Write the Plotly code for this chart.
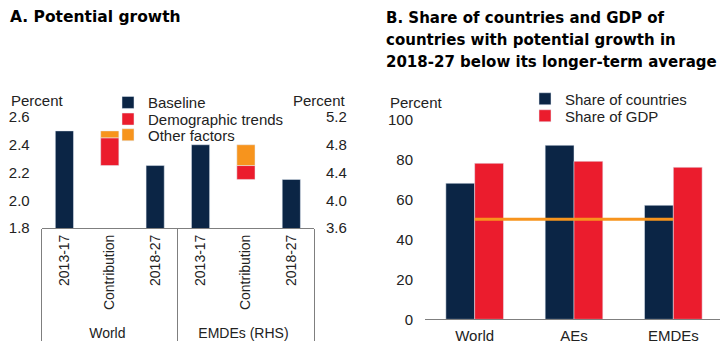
import plotly.graph_objects as go

# ---------- Data ----------
periods = ["2013-17", "Contribution", "2018-27"]
groups_a = ["World", "EMDEs (RHS)"]
world_baseline = [2.5, None, 2.25]
world_demographic = 0.20
world_other = 0.05
emde_baseline = [4.8, None, 4.3]
emde_demographic = 0.20
emde_other = 0.30

regions_b = ["World", "AEs", "EMDEs"]
share_countries = [68, 87, 57]
share_gdp = [78, 79, 76]
threshold = [50, 50, 50]

title_a = "A. Potential growth"
title_b = ["B. Share of countries and GDP of",
           "countries with potential growth in",
           "2018-27 below its longer-term average"]

NAVY = "#0B2545"
RED = "#EB1C2D"
ORANGE = "#F7941D"
FONT = "Arial, Liberation Sans, sans-serif"
TFONT = "DejaVu Sans, sans-serif"
OFF = 8                     # page body margin
W, H = 728 - OFF, 344 - OFF  # figure size
FS = 15

def px(v):
    """target page x pixel -> paper fraction"""
    return (v - OFF) / W

def py(v):
    """target page y pixel -> paper fraction"""
    return (H - (v - OFF)) / H

fig = go.Figure()

xw = [[groups_a[0]] * 3, periods]
xe = [[groups_a[1]] * 3, periods]
contrib_w = [[groups_a[0]], [periods[1]]]
contrib_e = [[groups_a[1]], [periods[1]]]

# Panel A - World (left axis)
fig.add_bar(x=xw, y=world_baseline, name="Baseline", marker_color=NAVY,
            xaxis="x", yaxis="y", width=0.4, offsetgroup="a", legend="legend")
fig.add_bar(x=contrib_w, y=[world_demographic], base=[world_baseline[2]],
            name="Demographic trends", marker_color=RED,
            xaxis="x", yaxis="y", width=0.4, offsetgroup="a", legend="legend2")
fig.add_bar(x=contrib_w, y=[world_other], base=[world_baseline[2] + world_demographic],
            name="Other factors", marker_color=ORANGE,
            xaxis="x", yaxis="y", width=0.4, offsetgroup="a", legend="legend3")
# Panel A - EMDEs (right axis)
fig.add_bar(x=xe, y=emde_baseline, name="Baseline", marker_color=NAVY,
            xaxis="x", yaxis="y2", width=0.4, offsetgroup="a", showlegend=False)
fig.add_bar(x=contrib_e, y=[emde_demographic], base=[emde_baseline[2]],
            name="Demographic trends", marker_color=RED,
            xaxis="x", yaxis="y2", width=0.4, offsetgroup="a", showlegend=False)
fig.add_bar(x=contrib_e, y=[emde_other], base=[emde_baseline[2] + emde_demographic],
            name="Other factors", marker_color=ORANGE,
            xaxis="x", yaxis="y2", width=0.4, offsetgroup="a", showlegend=False)

# Panel B
fig.add_bar(x=regions_b, y=share_countries, name="Share of countries", marker_color=NAVY,
            xaxis="x2", yaxis="y3", offsetgroup="c", legend="legend4")
fig.add_bar(x=regions_b, y=share_gdp, name="Share of GDP", marker_color=RED,
            xaxis="x2", yaxis="y3", offsetgroup="g", legend="legend5")
fig.add_scatter(x=regions_b, y=threshold, mode="lines", line=dict(color=ORANGE, width=3),
                xaxis="x2", yaxis="y3", showlegend=False, hoverinfo="skip")

tickfont = dict(family=FONT, size=FS, color="#222")
axis_gray = "#7f7f7f"

def leg(x, y):
    return dict(x=px(x), y=py(y), xanchor="left", yanchor="middle",
                bgcolor="rgba(0,0,0,0)", font=dict(family=FONT, size=FS, color="#222"),
                itemwidth=30, tracegroupgap=0)

fig.update_layout(
    width=W, height=H, margin=dict(l=0, r=0, t=0, b=0, autoexpand=False),
    paper_bgcolor="white", plot_bgcolor="white",
    barmode="group", bargap=0.42, bargroupgap=0,
    font=dict(family=FONT, size=FS, color="#222"),
    xaxis=dict(domain=[px(41.7), px(314)], type="multicategory", tickangle=-90,
               showline=True, linecolor=axis_gray, linewidth=1, ticks="",
               showdividers=True, dividercolor=axis_gray, dividerwidth=1,
               tickfont=dict(family=FONT, size=14, color="#222"), showgrid=False,
               automargin=False),
    yaxis=dict(domain=[py(228), py(117)], range=[1.8, 2.6], dtick=0.2,
               tickformat=".1f", showgrid=False, zeroline=False, showline=False,
               ticks="", tickfont=tickfont, ticklabelstandoff=11, automargin=False),
    yaxis2=dict(overlaying="y", side="right", range=[3.6, 5.2], dtick=0.4,
                tickformat=".1f", showgrid=False, zeroline=False, showline=False,
                ticks="", tickfont=tickfont, ticklabelstandoff=11, automargin=False),
    xaxis2=dict(domain=[px(425), px(723)], anchor="y3", showline=True,
                linecolor=axis_gray, linewidth=1, ticks="", tickfont=tickfont,
                showgrid=False, ticklabelstandoff=3, automargin=False),
    yaxis3=dict(domain=[py(319.3), py(119.3)], anchor="x2", range=[0, 100], dtick=20,
                showgrid=False, zeroline=False, showline=False, ticks="",
                tickfont=tickfont, ticklabelstandoff=11, automargin=False),
    legend=leg(108, 102.7),
    legend2=leg(108, 119.3),
    legend3=leg(108, 135),
    legend4=leg(525, 99),
    legend5=leg(525, 116),
    showlegend=True,
)

annotations = [
    dict(text="<b>%s</b>" % title_a, x=px(8), y=py(17), xanchor="left",
         yanchor="middle", font=dict(family=TFONT, size=15.5, color="black")),
    dict(text="Percent", x=px(9), y=py(100), xanchor="left", yanchor="middle",
         font=dict(family=FONT, size=FS, color="#222")),
    dict(text="Percent", x=px(348), y=py(100), xanchor="right", yanchor="middle",
         font=dict(family=FONT, size=FS, color="#222")),
    dict(text="Percent", x=px(388), y=py(102), xanchor="left", yanchor="middle",
         font=dict(family=FONT, size=FS, color="#222")),
]
for i, line in enumerate(title_b):
    annotations.append(dict(text="<b>%s</b>" % line, x=px(384), y=py(18 + 22 * i),
                            xanchor="left", yanchor="middle",
                            font=dict(family=TFONT, size=15, color="black")))
for a in annotations:
    a.update(xref="paper", yref="paper", showarrow=False)
fig.update_layout(annotations=annotations)

fig.write_html("out.html")
